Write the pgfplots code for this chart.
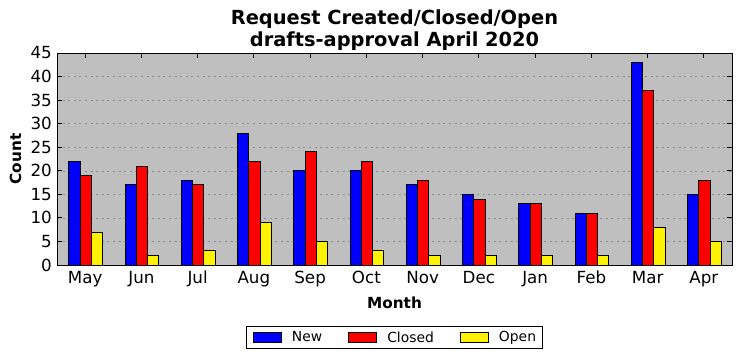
\documentclass[border=0pt]{standalone}
\usepackage{pgfplots}
\pgfplotsset{compat=1.18}
\usepackage{fontspec}
\setmainfont{DejaVu Sans}
\definecolor{bgsilver}{HTML}{BFBFBF}
\begin{document}
\begin{tikzpicture}
\path[use as bounding box] (0bp,0bp) rectangle (742bp,361bp);
\begin{axis}[
  at={(57bp,96bp)}, anchor=south west,
  width=675bp, height=212bp, scale only axis,
  xmin=-0.5, xmax=11.5, ymin=0, ymax=45,
  xtick={0,...,11},
  xticklabels={May,Jun,Jul,Aug,Sep,Oct,Nov,Dec,Jan,Feb,Mar,Apr},
  ytick={0,5,...,45},
  /pgf/number format/assume math mode=true,
  tick align=inside, major tick length=5bp,
  xtick pos=both, ytick pos=both,
  tick style={black, line width=0.8bp},
  axis line style={line width=1bp},
  axis background/.style={fill=bgsilver},
  ymajorgrids,
  major grid style={black!45, line width=0.5bp, dash pattern=on 2bp off 3.6bp},
  ticklabel style={font=\fontsize{16.7bp}{20bp}\selectfont},
  xticklabel style={anchor=north, inner sep=0pt, yshift=-6bp},
  yticklabel style={anchor=east, inner sep=0pt, xshift=-5bp},
  title={Request Created/Closed/Open\\drafts-approval April 2020},
  title style={at={(axis description cs:0.5,1)}, anchor=south, inner sep=0pt, yshift=-4bp, align=center,
    font=\bfseries\fontsize{19.4bp}{22bp}\selectfont},
  xlabel={Month},
  xlabel style={at={(axis description cs:0.5,0)}, anchor=base, inner sep=0pt, yshift=-43bp,
    font=\bfseries\fontsize{15.3bp}{18bp}\selectfont},
  ylabel={Count},
  ylabel style={at={(axis description cs:-0.0533,0.5)}, anchor=base, inner sep=0pt,
    font=\bfseries\fontsize{15.3bp}{18bp}\selectfont},
  legend columns=3,
  legend style={at={(axis description cs:0.5,-0.2877)}, anchor=north, draw=black, line width=1bp,
    fill=white, inner xsep=6bp, inner ysep=5bp,
    font=\fontsize{13.9bp}{16bp}\selectfont,
    nodes={inner sep=0pt},
    /tikz/every odd column/.append style={column sep=10bp},
    /tikz/every even column/.append style={column sep=26bp}},
  legend image code/.code={\draw[#1, line width=1bp] (0bp,-5bp) rectangle (28bp,5bp);},
]
\addplot[ybar, bar width=0.2, bar shift=-0.19, fill=blue, draw=black, line width=1bp]
  coordinates {(0,22) (1,17) (2,18) (3,28) (4,20) (5,20) (6,17) (7,15) (8,13) (9,11) (10,43) (11,15)};
\addlegendentry{New}
\addplot[ybar, bar width=0.2, bar shift=0.01, fill=red, draw=black, line width=1bp]
  coordinates {(0,19) (1,21) (2,17) (3,22) (4,24) (5,22) (6,18) (7,14) (8,13) (9,11) (10,37) (11,18)};
\addlegendentry{Closed}
\addplot[ybar, bar width=0.2, bar shift=0.21, fill=yellow, draw=black, line width=1bp]
  coordinates {(0,7) (1,2) (2,3) (3,9) (4,5) (5,3) (6,2) (7,2) (8,2) (9,2) (10,8) (11,5)};
\addlegendentry{Open}
\end{axis}
\end{tikzpicture}
\end{document}
